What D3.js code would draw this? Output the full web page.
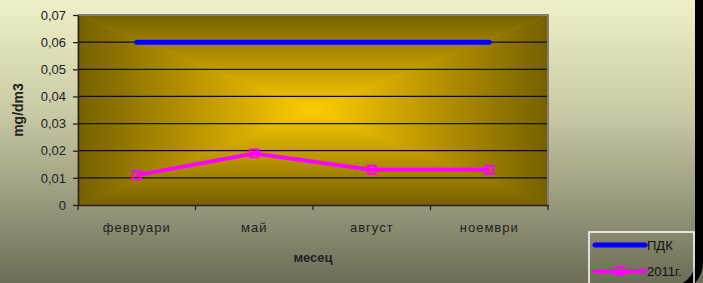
<!DOCTYPE html>
<html>
<head>
<meta charset="utf-8">
<script src="https://cdn.jsdelivr.net/npm/d3@7"></script>
<style>
  html, body { margin: 0; padding: 0; background: #fff; }
  svg { display: block; font-family: "Liberation Sans", Arial, sans-serif; }
</style>
</head>
<body>
<div class="vis"></div>
<script>
// months on the x axis
const months = ["февруари", "май", "август", "ноември"];
// ПДК (limit) and measured values for 2011
const pdk = [0.06, 0.06, 0.06, 0.06];
const y2011 = [0.011, 0.019, 0.013, 0.013];
const yTicks = [0, 0.01, 0.02, 0.03, 0.04, 0.05, 0.06, 0.07];
const seriesNames = ["ПДК", "2011г."];

const W = 703, H = 283;
const margin = { top: 15, right: 155, bottom: 78, left: 78 };
const width = W - margin.left - margin.right;
const height = H - margin.top - margin.bottom;

const svg = d3.select(".vis").append("svg").attr("width", W).attr("height", H);
const defs = svg.append("defs");

// page background
const bg = defs.append("linearGradient").attr("id", "bg")
  .attr("x1", 0).attr("y1", 0).attr("x2", 0).attr("y2", 1);
bg.append("stop").attr("offset", 0).attr("stop-color", "#f0f0c8");
bg.append("stop").attr("offset", 0.4).attr("stop-color", "#c9c9a5");
bg.append("stop").attr("offset", 1).attr("stop-color", "#6d6d58");
svg.append("rect").attr("width", W).attr("height", H).attr("fill", "url(#bg)");

// rounded black frame on the right (only the lower corner shows)
svg.append("rect")
  .attr("x", -20).attr("y", -80)
  .attr("width", 719).attr("height", 370)
  .attr("rx", 28)
  .attr("fill", "none").attr("stroke", "#000").attr("stroke-width", 8);

const g = svg.append("g").attr("transform", "translate(" + margin.left + "," + margin.top + ")");

const x = d3.scaleBand().domain(months).range([0, width]);
const y = d3.scaleLinear().domain([0, 0.07]).range([height, 0]);
const cx = (d) => x(d) + x.bandwidth() / 2;

// plot area: rectangular "from centre" gradient made of four triangles
const mx = width / 2, my = height / 2;
const ramp = [[0, "#766000"], [0.45, "#b49000"], [1, "#ffcc00"]];
function grad(id, x1, y1, x2, y2) {
  const lg = defs.append("linearGradient").attr("id", id)
    .attr("gradientUnits", "userSpaceOnUse")
    .attr("x1", x1).attr("y1", y1).attr("x2", x2).attr("y2", y2);
  ramp.forEach((s) => lg.append("stop").attr("offset", s[0]).attr("stop-color", s[1]));
}
grad("gt", 0, 0, 0, my);
grad("gb", 0, height, 0, my);
grad("gl", 0, 0, mx, 0);
grad("gr", width, 0, mx, 0);
const tri = [
  ["gt", [[0, 0], [width, 0], [mx, my]]],
  ["gb", [[0, height], [width, height], [mx, my]]],
  ["gl", [[0, 0], [0, height], [mx, my]]],
  ["gr", [[width, 0], [width, height], [mx, my]]],
];
tri.forEach((t) => {
  g.append("polygon")
    .attr("points", t[1].map((p) => p.join(",")).join(" "))
    .attr("fill", "url(#" + t[0] + ")")
    .attr("stroke", "url(#" + t[0] + ")").attr("stroke-width", 0.6);
});

// gridlines
g.selectAll(".grid").data(yTicks.slice(1, -1)).enter().append("line")
  .attr("x1", 0).attr("x2", width)
  .attr("y1", (d) => y(d)).attr("y2", (d) => y(d))
  .attr("stroke", "#111").attr("stroke-width", 1.3);

// plot border (top/right)
g.append("path")
  .attr("d", "M0,0H" + width + "V" + height)
  .attr("fill", "none").attr("stroke", "#7f7f7f").attr("stroke-width", 2);

// y axis
const fmt = (d) => (d === 0 ? "0" : d3.format(".2f")(d).replace(".", ","));
const yAxis = g.append("g").call(
  d3.axisLeft(y).tickValues(yTicks).tickFormat(fmt).tickSize(5).tickSizeOuter(0)
);
yAxis.select(".domain").attr("stroke", "#222").attr("stroke-width", 1.5);
yAxis.selectAll(".tick line").attr("stroke", "#222").attr("stroke-width", 1.3);
yAxis.selectAll(".tick text").attr("font-size", 13).attr("fill", "#222").attr("x", -12);

// x axis
const xAxis = g.append("g").attr("transform", "translate(0," + height + ")")
  .call(d3.axisBottom(x).tickSize(0).tickPadding(18));
xAxis.select(".domain").attr("stroke", "#222").attr("stroke-width", 1.5);
xAxis.selectAll(".tick text").attr("font-size", 13).attr("fill", "#222")
  .attr("letter-spacing", 1);
xAxis.selectAll(".bound").data(months.concat(["end"])).enter().append("line")
  .attr("x1", (d, i) => (i < months.length ? x(d) : width))
  .attr("x2", (d, i) => (i < months.length ? x(d) : width))
  .attr("y1", 0).attr("y2", 5)
  .attr("stroke", "#222").attr("stroke-width", 1.3);

// axis titles
g.append("text")
  .attr("x", width / 2).attr("y", height + 57)
  .attr("text-anchor", "middle").attr("font-size", 13).attr("font-weight", "bold")
  .attr("fill", "#222").text("месец");
svg.append("text")
  .attr("transform", "translate(23,110) rotate(-90)")
  .attr("text-anchor", "middle").attr("font-size", 14).attr("font-weight", "bold")
  .attr("fill", "#222").text("mg/dm3");

// lines
const line = d3.line().x((d, i) => cx(months[i])).y((d) => y(d));
g.append("path").datum(pdk).attr("d", line)
  .attr("fill", "none").attr("stroke", "#0000ff").attr("stroke-width", 5)
  .attr("stroke-linecap", "round");
g.append("path").datum(y2011).attr("d", line)
  .attr("fill", "none").attr("stroke", "#ff00ff").attr("stroke-width", 4)
  .attr("stroke-linejoin", "round");
g.selectAll(".mk").data(y2011).enter().append("rect")
  .attr("x", (d, i) => cx(months[i]) - 4).attr("y", (d) => y(d) - 4)
  .attr("width", 8).attr("height", 8)
  .attr("fill", "none").attr("stroke", "#ff00ff").attr("stroke-width", 2);

// legend
const lg = svg.append("g").attr("transform", "translate(589,232)");
lg.append("rect").attr("x", 0).attr("y", 0).attr("width", 105).attr("height", 70)
  .attr("fill", "none").attr("stroke", "#fff").attr("stroke-width", 1.5);
const colors = ["#0000ff", "#ff00ff"];
seriesNames.forEach((name, i) => {
  const yy = 13 + i * 26;
  lg.append("line").attr("x1", 6).attr("x2", 56).attr("y1", yy).attr("y2", yy)
    .attr("stroke", colors[i]).attr("stroke-width", i ? 4 : 5).attr("stroke-linecap", "round");
  if (i === 1) {
    lg.append("rect").attr("x", 27).attr("y", yy - 4).attr("width", 8).attr("height", 8)
      .attr("fill", "none").attr("stroke", colors[i]).attr("stroke-width", 2);
  }
  lg.append("text").attr("x", 58).attr("y", yy + 5).attr("font-size", 13)
    .attr("fill", "#111").text(name);
});
</script>
</body>
</html>
